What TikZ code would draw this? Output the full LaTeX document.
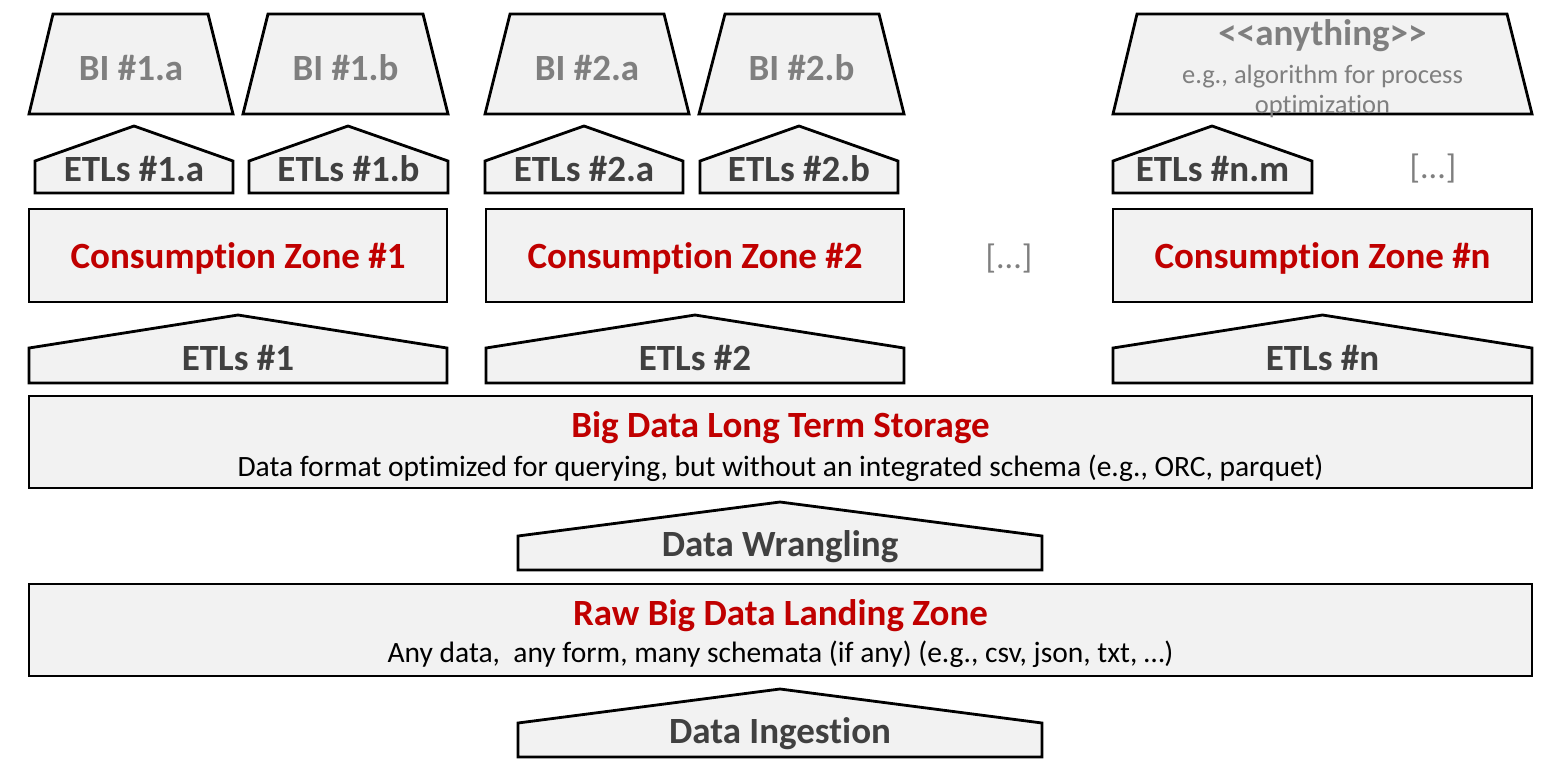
\documentclass[tikz,border=0pt]{standalone}
\usepackage{fontspec}
\setmainfont{Carlito}[Ligatures={NoCommon}]
\definecolor{fillg}{HTML}{F2F2F2}
\definecolor{redt}{HTML}{C00000}
\definecolor{darkt}{HTML}{404040}
\definecolor{lightt}{HTML}{7F7F7F}
\newcommand\myhouse[6]{%
  \draw[shp] (#1,#5) -- (#1,#4) -- (#6,#3) -- (#2,#4) -- (#2,#5) -- cycle;}
\newcommand\mytrap[6]{%
  \draw[shp] (#1,#6) -- (#3,#5) -- (#4,#5) -- (#2,#6) -- cycle;}
\begin{document}
\begin{tikzpicture}[x=1pt,y=-1pt,
  shp/.style={draw=black, fill=fillg, line width=2.8pt, line join=miter},
  lbl/.style={anchor=base, inner sep=0pt, text=darkt, font=\fontsize{37}{44}\selectfont\bfseries},
  bil/.style={anchor=base, inner sep=0pt, text=lightt, font=\fontsize{37}{44}\selectfont\bfseries},
  ttl/.style={anchor=base, inner sep=0pt, text=redt, font=\fontsize{37}{44}\selectfont\bfseries},
  sub/.style={anchor=base, inner sep=0pt, text=black, font=\fontsize{29.5}{35}\selectfont},
  egs/.style={anchor=base, inner sep=0pt, text=lightt, font=\fontsize{26.5}{32}\selectfont},
  dots/.style={anchor=base, inner sep=0pt, text=lightt, font=\fontsize{34}{40}\selectfont}]
\useasboundingbox (0,0) rectangle (1568,774);
% BI trapezoids
\mytrap{29}{233}{53}{208}{14}{114}
\mytrap{243}{448}{268}{423}{14}{114}
\mytrap{485}{689}{510}{664}{14}{114}
\mytrap{699}{904}{725}{879}{14}{114}
\mytrap{1113}{1532}{1137}{1507}{14}{114}
\node[bil] (bi1a) at (131,80) {BI \#1.a};
\node[bil] (bi1b) at (345.5,80) {BI \#1.b};
\node[bil] (bi2a) at (587,80) {BI \#2.a};
\node[bil] (bi2b) at (801.5,80) {BI \#2.b};
\node[bil] (any) at (1322.5,45) {<\kern0pt<anything>\kern0pt>};
\node[egs] (eg1) at (1322.5,83) {e.g., algorithm for process};
\node[egs] (eg2) at (1322.5,113) {optimization};
% small ETL houses
\myhouse{35}{233}{126}{161}{193}{134}
\myhouse{249}{448}{126}{161}{193}{348}
\myhouse{485}{683}{126}{161}{193}{584}
\myhouse{700}{898}{126}{161}{193}{799}
\myhouse{1113}{1312}{126}{161}{193}{1212}
\node[lbl] (e1a) at (134,181) {ETLs \#1.a};
\node[lbl] (e1b) at (348.5,181) {ETLs \#1.b};
\node[lbl] (e2a) at (584,181) {ETLs \#2.a};
\node[lbl] (e2b) at (799,181) {ETLs \#2.b};
\node[lbl] (enm) at (1212.5,181) {ETLs \#n.m};
\node[dots] (d1) at (1433,178) {[...]};
% consumption zones
\draw[shp] (29,209) rectangle (447,302);
\draw[shp] (486,209) rectangle (904,302);
\draw[shp] (1113,209) rectangle (1532,302);
\node[ttl] (cz1) at (238,268) {Consumption Zone \#1};
\node[ttl] (cz2) at (695,268) {Consumption Zone \#2};
\node[ttl] (czn) at (1322.5,268) {Consumption Zone \#n};
\node[dots] (d2) at (1009,268) {[...]};
% big ETL houses
\myhouse{29}{447}{315}{348}{383}{238}
\myhouse{486}{904}{315}{348}{383}{695}
\myhouse{1113}{1532}{315}{348}{383}{1322.5}
\node[lbl] (et1) at (238,370) {ETLs \#1};
\node[lbl] (et2) at (695,370) {ETLs \#2};
\node[lbl] (etn) at (1322.5,370) {ETLs \#n};
% long term storage
\draw[shp] (29,396) rectangle (1532,488);
\node[ttl] (lts) at (780.5,437) {Big Data Long Term Storage};
\node[sub] (ltss) at (780.5,476) {Data format optimized for querying, but without an integrated schema (e.g., ORC, parquet)};
% data wrangling
\myhouse{518}{1042}{502}{536}{570}{780}
\node[lbl] (dw) at (780,556) {Data Wrangling};
% raw landing zone
\draw[shp] (29,584) rectangle (1532,676);
\node[ttl] (raw) at (780.5,625) {Raw Big Data Landing Zone};
\node[sub] (raws) at (780.5,662) {Any data,\ \ any form, many schemata (if any) (e.g., csv, json, txt, …)};
% data ingestion
\myhouse{518}{1042}{689}{723}{757}{780}
\node[lbl] (di) at (780,743) {Data Ingestion};
\end{tikzpicture}
\end{document}
